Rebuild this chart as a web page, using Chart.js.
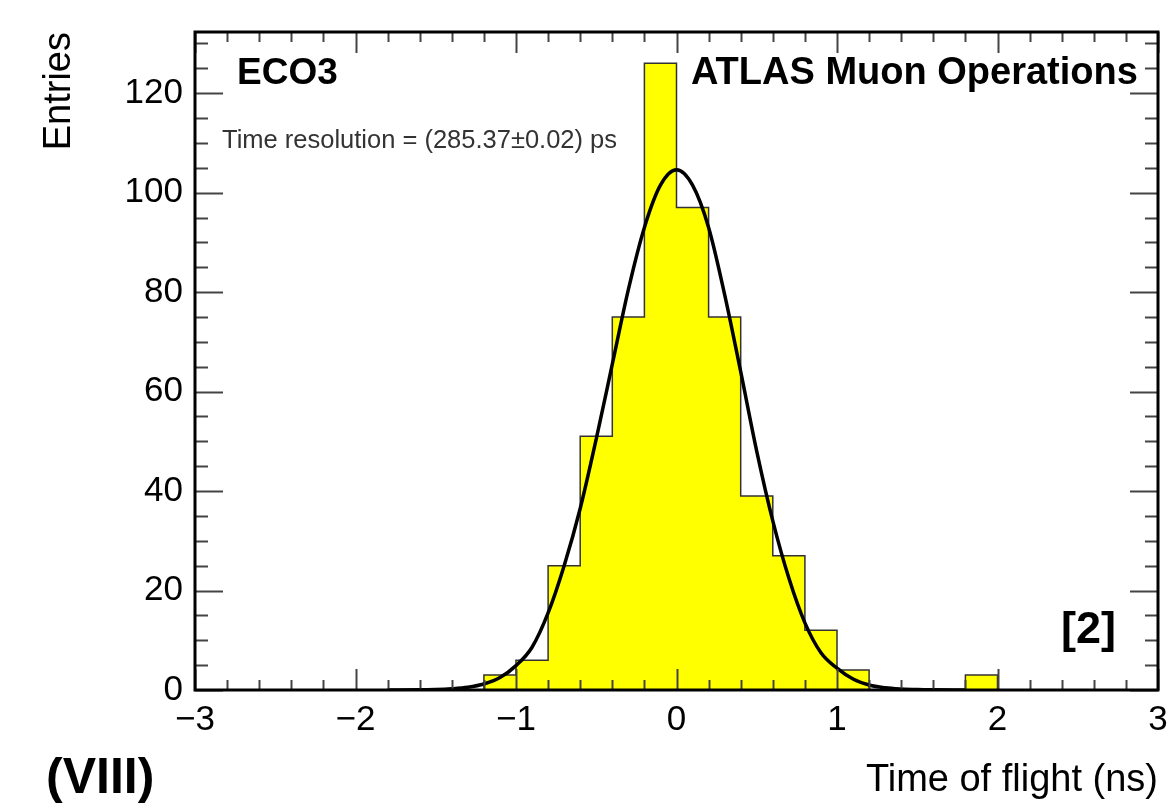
<!DOCTYPE html>
<html>
<head>
<meta charset="utf-8">
<title>ECO3 time of flight</title>
<script src="https://cdn.jsdelivr.net/npm/chart.js@4/dist/chart.umd.min.js"></script>
<style>
  html, body { margin: 0; padding: 0; background: #fff; }
  #tof { display: block; }
</style>
</head>
<body>
<canvas id="tof" width="1168" height="803"></canvas>
<script>
// histogram: low edge of each 0.2 ns bin and the entries in it
var binLowEdges = [-3.0, -2.8, -2.6, -2.4, -2.2, -2.0, -1.8, -1.6, -1.4, -1.2,
                   -1.0, -0.8, -0.6, -0.4, -0.2, 0.0, 0.2, 0.4, 0.6, 0.8,
                   1.0, 1.2, 1.4, 1.6, 1.8, 2.0, 2.2, 2.4, 2.6, 2.8];
var binCounts = [0, 0, 0, 0, 0, 0, 0, 0, 0, 3,
                 6, 25, 51, 75, 126, 97, 75, 39, 27, 12,
                 4, 0, 0, 0, 3, 0, 0, 0, 0, 0];
var lastEdge = 3.0;

// gaussian fit curve
var fitX = [-1.8, -1.6, -1.5, -1.4, -1.3, -1.2, -1.1, -1.0, -0.9, -0.8, -0.7, -0.6, -0.5, -0.4, -0.3, -0.2, -0.1,
            0.0, 0.1, 0.2, 0.3, 0.4, 0.5, 0.6, 0.7, 0.8, 0.9, 1.0, 1.1, 1.2, 1.3, 1.4, 1.5, 1.6, 1.8];
var fitY = [0, 0.05, 0.1, 0.25, 0.55, 1.2, 2.5, 4.9, 8.6, 15.5, 25, 36.5, 50.5, 65.5, 80.5, 93, 101.5,
            104.6, 101.5, 93, 79.5, 64, 48, 34, 22.5, 13.5, 7.5, 4.4, 2.2, 1.0, 0.45, 0.2, 0.08, 0.03, 0];

var xMin = -3, xMax = 3, yMax = 132.3;

var FONT = "'Liberation Sans', Arial, Helvetica, sans-serif";

var histPoints = [];
for (var i = 0; i < binLowEdges.length; i++) {
    histPoints.push({ x: binLowEdges[i], y: binCounts[i] });
}
histPoints.push({ x: lastEdge, y: 0 });

var fitPoints = fitX.map(function (x, i) { return { x: x, y: fitY[i] }; });

function minusSign(v) {
    return v < 0 ? '\u2212' + Math.abs(v) : String(v);
}

// ROOT style frame: inward ticks on all four sides, plus the labels
var rootFrame = {
    id: 'rootFrame',
    afterDatasetsDraw: function (chart) {
        var ctx = chart.ctx;
        var a = chart.chartArea;
        var xs = chart.scales.x, ys = chart.scales.y;
        ctx.save();
        ctx.strokeStyle = '#444';
        ctx.lineWidth = 2;
        ctx.beginPath();
        // x ticks, bottom and top
        for (var k = 0; k <= 30; k++) {
            var v = xMin + k * 0.2;
            var px = Math.round(xs.getPixelForValue(v)) + 0.5;
            var len = (k % 5 === 0) ? 21 : 10;
            ctx.moveTo(px, a.bottom); ctx.lineTo(px, a.bottom - len);
            ctx.moveTo(px, a.top); ctx.lineTo(px, a.top + len);
        }
        // y ticks, left and right
        for (var t = 0; t <= yMax; t += 5) {
            var py = Math.round(ys.getPixelForValue(t)) + 0.5;
            var l = (t % 20 === 0) ? 28 : 13;
            ctx.moveTo(a.left, py); ctx.lineTo(a.left + l, py);
            ctx.moveTo(a.right, py); ctx.lineTo(a.right - l, py);
        }
        ctx.stroke();

        ctx.strokeStyle = '#000';
        ctx.lineWidth = 3;
        ctx.strokeRect(a.left, a.top, a.right - a.left, a.bottom - a.top);

        ctx.fillStyle = '#000';
        ctx.textBaseline = 'alphabetic';
        ctx.textAlign = 'left';
        ctx.font = 'bold 37px ' + FONT;
        ctx.fillText('ECO3', 237, 84);
        ctx.font = 'bold 38px ' + FONT;
        ctx.fillText('ATLAS Muon Operations', 691, 84);

        ctx.fillStyle = '#333';
        ctx.font = '25.5px ' + FONT;
        ctx.fillText('Time resolution = (285.37\u00b10.02) ps', 222, 148);

        ctx.fillStyle = '#000';
        ctx.font = 'bold 45px ' + FONT;
        ctx.fillText('[2]', 1061, 643);

        ctx.font = 'bold 50px ' + FONT;
        ctx.fillText('(VIII)', 46, 793);
        ctx.restore();
    }
};

var ctx = document.getElementById('tof').getContext('2d');
var chart = new Chart(ctx, {
    type: 'line',
    data: {
        datasets: [
            {
                label: 'fit',
                data: fitPoints,
                borderColor: '#000',
                borderWidth: 3.5,
                pointRadius: 0,
                fill: false,
                cubicInterpolationMode: 'monotone',
                order: 0
            },
            {
                label: 'entries',
                data: histPoints,
                stepped: 'before',
                borderColor: '#333',
                borderWidth: 1.5,
                backgroundColor: '#ffff00',
                pointRadius: 0,
                fill: 'origin',
                order: 1
            }
        ]
    },
    options: {
        responsive: false,
        animation: false,
        events: [],
        layout: { padding: { top: 32, right: 10, bottom: 0, left: 0 } },
        plugins: {
            legend: { display: false },
            tooltip: { enabled: false },
            title: { display: false }
        },
        scales: {
            x: {
                type: 'linear',
                min: xMin,
                max: xMax,
                grid: { display: false, drawTicks: false },
                border: { display: false },
                ticks: {
                    stepSize: 1,
                    padding: 9,
                    color: '#000',
                    font: { family: FONT, size: 35 },
                    maxRotation: 0,
                    callback: function (v) { return minusSign(v); }
                },
                title: {
                    display: true,
                    text: 'Time of flight (ns)',
                    align: 'end',
                    color: '#000',
                    font: { family: FONT, size: 38 },
                    padding: { top: 0, bottom: 0 }
                },
                afterFit: function (scale) {
                    scale.height = 113;
                    scale.paddingLeft = 0;
                    scale.paddingRight = 0;
                }
            },
            y: {
                type: 'linear',
                min: 0,
                max: yMax,
                grid: { display: false, drawTicks: false },
                border: { display: false },
                ticks: {
                    stepSize: 20,
                    includeBounds: false,
                    padding: 12,
                    color: '#000',
                    font: { family: FONT, size: 35 }
                },
                title: {
                    display: true,
                    text: 'Entries',
                    align: 'end',
                    color: '#000',
                    font: { family: FONT, size: 38 },
                    padding: { top: 37, bottom: 0 }
                },
                afterFit: function (scale) {
                    scale.width = 195;
                    scale.paddingTop = 0;
                    scale.paddingBottom = 0;
                }
            }
        }
    },
    plugins: [rootFrame]
});
</script>
</body>
</html>
